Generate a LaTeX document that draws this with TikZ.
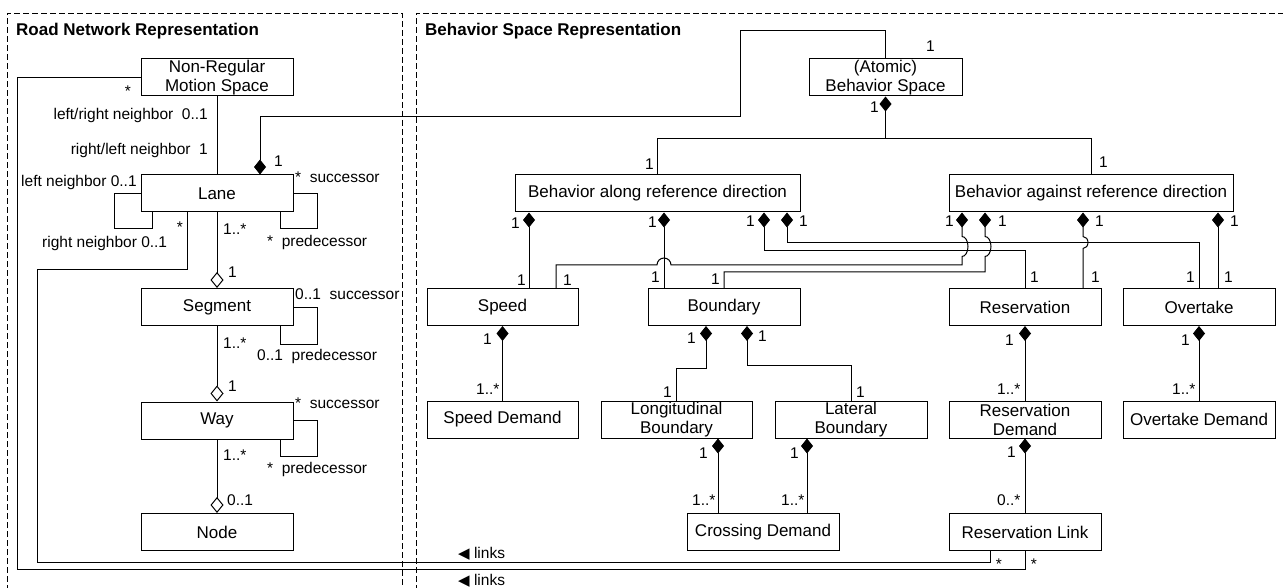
\documentclass[tikz,border=0pt]{standalone}
\usepackage{fontspec}
\setmainfont{Liberation Sans}
\newfontfamily\dejavu{DejaVu Sans}
\usetikzlibrary{arrows.meta}
\newcommand\boxfont{\fontsize{17}{19}\selectfont}
\newcommand\lblfont{\fontsize{15.5}{17}\selectfont}
\begin{document}
\begin{tikzpicture}[x=1pt,y=-1pt,
  umlbox/.style={draw,line width=1pt,inner sep=0pt,minimum height=37pt,align=center,font=\boxfont},
  conn/.style={line width=1pt},
  comp/.style={conn,{Diamond[length=15pt,width=12pt]}-},
  agg/.style={conn,{Diamond[open,length=16pt,width=13pt]}-},
  lbl/.style={font=\lblfont,inner sep=0pt,anchor=base west},
  frame/.style={line width=0.8pt,dash pattern=on 6pt off 3pt},
  title/.style={font=\fontsize{17}{19}\selectfont\bfseries,inner sep=0pt,anchor=base west}]
\clip (0,0) rectangle (1283,588);

% package frames
\draw[frame] (7,600) -- (7,13) -- (402,13) -- (402,600);
\draw[frame] (416,600) -- (416,13) -- (1300,13);
\node[title] (t1) at (16,36) {Road Network Representation};
\node[title] (t2) at (425,36) {Behavior Space Representation};

% road network classes
\node[umlbox,minimum width=152pt] (NRMS) at (217,77.5) {Non-Regular\\Motion Space};
\node[umlbox,minimum width=152pt] (Lane) at (217,193.5) {Lane};
\node[umlbox,minimum width=152pt] (Segment) at (217,307) {Segment};
\node[umlbox,minimum width=152pt] (Way) at (217,420.5) {Way};
\node[umlbox,minimum width=152pt] (Node) at (217,532) {Node};

% behavior space classes
\node[umlbox,minimum width=153pt] (Atomic) at (885.5,77.5) {(Atomic)\\Behavior Space};
\node[umlbox,minimum width=285pt] (Along) at (657.5,193.5) {Behavior along reference direction};
\node[umlbox,minimum width=284pt] (Against) at (1091,193.5) {Behavior against reference direction};
\node[umlbox,minimum width=151pt] (Speed) at (502.5,307) {Speed};
\node[umlbox,minimum width=152pt] (Boundary) at (724,307) {Boundary};
\node[umlbox,minimum width=152pt] (Reservation) at (1025,307) {Reservation};
\node[umlbox,minimum width=152pt] (Overtake) at (1199,307) {Overtake};
\node[umlbox,minimum width=151pt] (SpeedDemand) at (502.5,419.5) {Speed Demand};
\node[umlbox,minimum width=151pt] (LongB) at (676.5,419.5) {Longitudinal\\Boundary};
\node[umlbox,minimum width=152pt] (LatB) at (851,419.5) {Lateral\\Boundary};
\node[umlbox,minimum width=152pt] (ResDemand) at (1025,419.5) {Reservation\\Demand};
\node[umlbox,minimum width=152pt] (OvDemand) at (1199,419.5) {Overtake Demand};
\node[umlbox,minimum width=152pt] (Crossing) at (763,532) {Crossing Demand};
\node[umlbox,minimum width=152pt] (ResLink) at (1025,532) {Reservation Link};

% road network associations
\draw[conn] (NRMS.south) -- (Lane.north);
\draw[conn] (Lane.west) -- ++(-26,0) -- ++(0,35.5) -| ([xshift=-65]Lane.south);
\draw[conn] (Lane.east) -- ++(24,0) -- ++(0,35.5) -| ([xshift=63]Lane.south);
\draw[conn] (Segment.east) -- ++(24,0) -- ++(0,37) -| ([xshift=63]Segment.south);
\draw[conn] (Way.east) -- ++(24,0) -- ++(0,35.5) -| ([xshift=63]Way.south);
\draw[agg] (Segment.north) -- (Lane.south);
\draw[agg] (Way.north) -- (Segment.south);
\draw[agg] (Node.north) -- (Way.south);

% links between the two packages
\draw[comp] ([xshift=43]Lane.north) -- ++(0,-58) -| (740,31) -| (Atomic.north);
\draw[conn] ([xshift=-30]Lane.south) -- ++(0,57) -| (37,562) -| ([xshift=-35]ResLink.south);
\draw[conn] (NRMS.west) -| (17,569) -| (ResLink.south);

% behavior space compositions
\draw[comp] (Atomic.south) -- ++(0,42) -| (Along.north);
\draw[conn] (Atomic.south) ++(0,42) -| (Against.north);
\draw[comp] ([xshift=-128.5]Along.south) -- ([xshift=26.5]Speed.north);
\draw[comp] ([xshift=6.5]Along.south) -- ([xshift=-60]Boundary.north);
\draw[comp] ([xshift=106.5]Along.south) -- ++(0,38) -| (Reservation.north);
\draw[comp] ([xshift=129.5]Along.south) -- ++(0,30) -| (Overtake.north);
\draw[comp] ([xshift=-129]Against.south) -- ++(0,24)
  arc[start angle=-90,end angle=90,x radius=6,y radius=10] -- (962,265) -- (671,265)
  arc[start angle=0,end angle=-180,radius=7] -| ([xshift=53.5]Speed.north);
\draw[comp] ([xshift=-106]Against.south) -- ++(0,24)
  arc[start angle=-90,end angle=90,x radius=6,y radius=10] -- (985,272) -| (Boundary.north);
\draw[comp] ([xshift=-8]Against.south) -- ++(0,24)
  arc[start angle=-90,end angle=90,x radius=5,y radius=6] -- ([xshift=58]Reservation.north);
\draw[comp] ([xshift=127]Against.south) -- ([xshift=19]Overtake.north);
\draw[comp] (Speed.south) -- (SpeedDemand.north);
\draw[comp] ([xshift=-18]Boundary.south) -- ++(0,42) -| (LongB.north);
\draw[comp] ([xshift=23]Boundary.south) -- ++(0,39) -| (LatB.north);
\draw[comp] (Reservation.south) -- (ResDemand.north);
\draw[comp] (Overtake.south) -- (OvDemand.north);
\draw[comp] ([xshift=41.5]LongB.south) -- ([xshift=-45]Crossing.north);
\draw[comp] ([xshift=-44]LatB.south) -- ([xshift=44]Crossing.north);
\draw[comp] (ResDemand.south) -- (ResLink.north);

% road network multiplicities and roles
\node[lbl,anchor=base] (m1) at (128,97) {*};
\node[lbl,anchor=base east] (m2) at (208,120) {left/right neighbor\ \ 0..1};
\node[lbl,anchor=base east] (m3) at (208,155) {right/left neighbor\ \ 1};
\node[lbl] (m4) at (21,187) {left neighbor 0..1};
\node[lbl] (m5) at (274,167) {1};
\node[lbl] (m6) at (295,183) {*\ \ successor};
\node[lbl] (m7) at (42,248) {right neighbor 0..1};
\node[lbl] (m8) at (223,235) {1..*};
\node[lbl,anchor=base] (m9) at (180,233) {*};
\node[lbl] (m10) at (267,247) {*\ \ predecessor};
\node[lbl] (m11) at (228,278) {1};
\node[lbl] (m12) at (295,299) {0..1\ \ successor};
\node[lbl] (m13) at (223,348) {1..*};
\node[lbl] (m14) at (257,360) {0..1\ \ predecessor};
\node[lbl] (m15) at (228,391) {1};
\node[lbl] (m16) at (295,408) {*\ \ successor};
\node[lbl] (m17) at (223,460) {1..*};
\node[lbl] (m18) at (267,473) {*\ \ predecessor};
\node[lbl] (m19) at (227,505) {0..1};

% behavior space multiplicities
\node[lbl] (r1) at (926,52) {1};
\node[lbl] (r2) at (870,113) {1};
\node[lbl] (r3) at (645,170) {1};
\node[lbl] (r4) at (1099,168) {1};
\node[lbl] (a1) at (511,229) {1};
\node[lbl] (a2) at (648,228) {1};
\node[lbl] (a3) at (746,227) {1};
\node[lbl] (a4) at (799,227) {1};
\node[lbl] (a5) at (945,227) {1};
\node[lbl] (a6) at (998,227) {1};
\node[lbl] (a7) at (1095,227) {1};
\node[lbl] (a8) at (1230,227) {1};
\node[lbl] (b1) at (517,285) {1};
\node[lbl] (b2) at (563,285) {1};
\node[lbl] (b3) at (651,283) {1};
\node[lbl] (b4) at (711,284) {1};
\node[lbl] (b5) at (1030,283) {1};
\node[lbl] (b6) at (1091,283) {1};
\node[lbl] (b7) at (1186,283) {1};
\node[lbl] (b8) at (1224,283) {1};
\node[lbl] (c1) at (483,344) {1};
\node[lbl] (c2) at (687,343) {1};
\node[lbl] (c3) at (758,341) {1};
\node[lbl] (c4) at (1005,345) {1};
\node[lbl] (c5) at (1181,345) {1};
\node[lbl] (d1) at (476,394) {1..*};
\node[lbl] (d2) at (663,397) {1};
\node[lbl] (d3) at (856,397) {1};
\node[lbl] (d4) at (997,394) {1..*};
\node[lbl] (d5) at (1172,394) {1..*};
\node[lbl] (e1) at (699,458) {1};
\node[lbl] (e2) at (790,458) {1};
\node[lbl] (e3) at (1007,457) {1};
\node[lbl] (f1) at (692,505) {1..*};
\node[lbl] (f2) at (781,505) {1..*};
\node[lbl] (f3) at (997,505) {0..*};
\node[lbl,anchor=base] (g1) at (999,569) {*};
\node[lbl,anchor=base] (g2) at (1034,569) {*};
\node[lbl] (k1) at (458,558) {{\dejavu\fontsize{15}{15}\selectfont ◀}\ links};
\node[lbl] (k2) at (458,585) {{\dejavu\fontsize{15}{15}\selectfont ◀}\ links};
\end{tikzpicture}
\end{document}
